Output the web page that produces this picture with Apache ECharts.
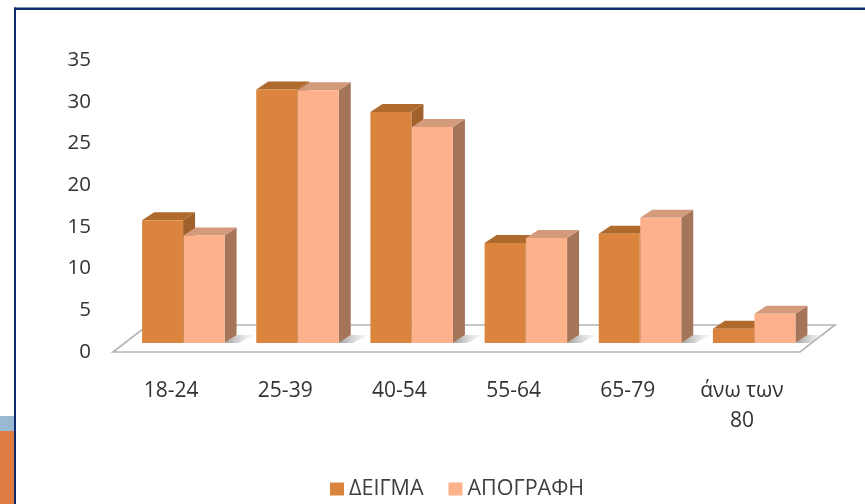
<!DOCTYPE html>
<html><head><meta charset="utf-8">
<style>html,body{margin:0;padding:0;background:#fff}#c{width:865px;height:504px;filter:blur(0.5px)}</style>
<script src="https://cdn.jsdelivr.net/npm/echarts@6/dist/echarts.min.js"></script>
</head><body><div id="c"></div>
<script>
const categories = ['18-24','25-39','40-54','55-64','65-79','άνω των\n80'];
const deigma = [14.7,30.4,27.7,12.0,13.1,1.7];
const apografi = [12.9,30.3,25.9,12.6,15.0,3.5];
const yTicks = {min:0,max:35,interval:5};
const FONT = '"Open Sans","Noto Sans",sans-serif';
const chart = echarts.init(document.getElementById('c'),null,{renderer:'canvas'});
const DX=12, DY=8, SHIFT=12, W=41, LIFT=9;
function bar(front,top,side,dir){
  return function(params,api){
    const p=api.coord([api.value(0),api.value(1)]);
    const b=api.coord([api.value(0),0]);
    const c=p[0]+SHIFT;
    const x0=dir<0?c-W:c+0.5, x1=x0+W, y=p[1]-LIFT, yb=b[1]-LIFT;
    const children=[];
    if(dir>0){
      children.push({type:'polygon',silent:true,shape:{points:[[x1+DX,yb-DY],[x1+30,yb-DY],[x1+14,yb],[x1,yb]]},
        style:{fill:new echarts.graphic.LinearGradient(0,0,1,0,[{offset:0,color:'#9a9a9a'},{offset:1,color:'rgba(225,225,225,0.2)'}])}});
    }
    children.push({type:'polygon',shape:{points:[[x1,y],[x1+DX,y-DY],[x1+DX,yb-DY],[x1,yb]]},style:{fill:side}});
    children.push({type:'polygon',shape:{points:[[x0,y],[x0+DX,y-DY],[x1+DX,y-DY],[x1,y]]},style:{fill:top}});
    children.push({type:'rect',shape:{x:x0,y:y,width:W,height:yb-y},style:{fill:front}});
    return {type:'group',children};
  };
}
function floor(params,api){
  const cs=params.coordSys, f=api.coord([0,0])[1], bk=f-27, x0=cs.x-1, x1=cs.x+cs.width+1;
  return {type:'polygon',silent:true,shape:{points:[[x0,f],[x1,f],[x1+35,bk],[x0+35,bk]]},
    style:{fill:'#fff',stroke:'#b4b4b4',lineWidth:1.6}};
}
chart.setOption({
  animation:false,backgroundColor:'#fff',
  grid:{left:114,right:66,top:60,height:292},
  legend:{data:['ΔΕΙΓΜΑ','ΑΠΟΓΡΑΦΗ'],top:473,left:325,itemWidth:14,itemHeight:13,itemGap:25,icon:'rect',
    textStyle:{fontFamily:FONT,fontSize:21.5,color:'#404040'}},
  xAxis:{type:'category',data:categories,axisLine:{show:false},axisTick:{show:false},
    axisLabel:{margin:24,fontFamily:FONT,fontSize:21,color:'#333',lineHeight:30,interval:0}},
  yAxis:{type:'value',min:yTicks.min,max:yTicks.max,interval:yTicks.interval,axisLine:{show:false},axisTick:{show:false},splitLine:{show:false},
    axisLabel:{margin:23,fontFamily:FONT,fontSize:20.5,color:'#333'}},
  series:[
    {name:'floor',type:'custom',coordinateSystem:'cartesian2d',data:[[0,0]],renderItem:floor,silent:true,z:1},
    {name:'ΔΕΙΓΜΑ',type:'custom',data:deigma.map((v,i)=>[i,v]),encode:{x:0,y:1},itemStyle:{color:'#DB843D'},renderItem:bar('#DB843D','#B06A2E','#A0622C',-1),z:2},
    {name:'ΑΠΟΓΡΑΦΗ',type:'custom',data:apografi.map((v,i)=>[i,v]),encode:{x:0,y:1},itemStyle:{color:'#FDB28C'},renderItem:bar('#FDB28C','#D49A7C','#A5755A',1),z:3}
  ],
  graphic:[
    {type:'rect',silent:true,shape:{x:0,y:416,width:14,height:15},style:{fill:'#9BB8D3'}},
    {type:'rect',silent:true,shape:{x:0,y:431,width:14,height:73},style:{fill:'#DE7C44'}},
    {type:'rect',silent:true,shape:{x:14,y:7.5,width:851,height:2.5},style:{fill:'#0F2A6B'}},
    {type:'rect',silent:true,shape:{x:14,y:7.5,width:2,height:497},style:{fill:'#0F2A6B'}}
  ]
});
</script></body></html>
